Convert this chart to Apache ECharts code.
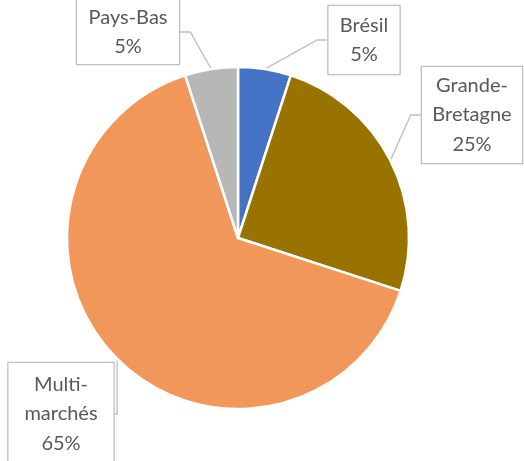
<!DOCTYPE html>
<html>
<head>
<meta charset="utf-8">
<script src="https://cdn.jsdelivr.net/npm/echarts@6/dist/echarts.min.js"></script>
<style>
  html, body { margin: 0; padding: 0; background: #fff; }
  #chart { width: 524px; height: 461px; }
</style>
</head>
<body>
<div id="chart"></div>
<script>
// pie data, clockwise from 12 o'clock
const categories = ["Brésil", "Grande-Bretagne", "Multi-marchés", "Pays-Bas"];
const labelNames = ["Brésil", "Grande-\nBretagne", "Multi-\nmarchés", "Pays-Bas"];
const shares = [5, 25, 65, 5];

const colors = ["#4472C4", "#997300", "#F1975A", "#B7B7B7"];

// callout boxes: centre x, centre y, width, height
const boxes = [
  [364, 40, 71, 68],
  [472, 115, 100, 96],
  [61, 414, 105, 102],
  [128, 32, 102, 64]
];
const lineH = 29.5;

const chart = echarts.init(document.getElementById("chart"));

const data = categories.map((name, i) => {
  const lines = labelNames[i].split("\n").length + 1;
  const padV = Math.max(0, (boxes[i][3] - lines * lineH) / 2);
  return {
    name: name,
    value: shares[i],
    itemStyle: { color: colors[i] },
    label: {
      formatter: labelNames[i] + "\n{d}%",
      width: boxes[i][2],
      padding: [padV, 0, padV, 0]
    }
  };
});

const option = {
  animation: false,
  series: [
    {
      type: "pie",
      center: [238, 238],
      radius: 171,
      startAngle: 90,
      clockwise: true,
      itemStyle: {
        borderColor: "#fff",
        borderWidth: 2.5
      },
      label: {
        show: true,
        position: "outside",
        fontFamily: "Lato",
        fontSize: 20,
        lineHeight: lineH,
        color: "#595959",
        align: "center",
        backgroundColor: "#fff",
        borderColor: "#BFBFBF",
        borderWidth: 1.3
      },
      labelLine: {
        show: true,
        length: 10,
        length2: 10,
        lineStyle: { color: "#BFBFBF", width: 1.3 }
      },
      labelLayout: function (params) {
        const b = boxes[params.dataIndex];
        return {
          x: b[0],
          y: b[1],
          align: "center",
          verticalAlign: "middle"
        };
      },
      data: data
    }
  ]
};

chart.setOption(option);
</script>
</body>
</html>
